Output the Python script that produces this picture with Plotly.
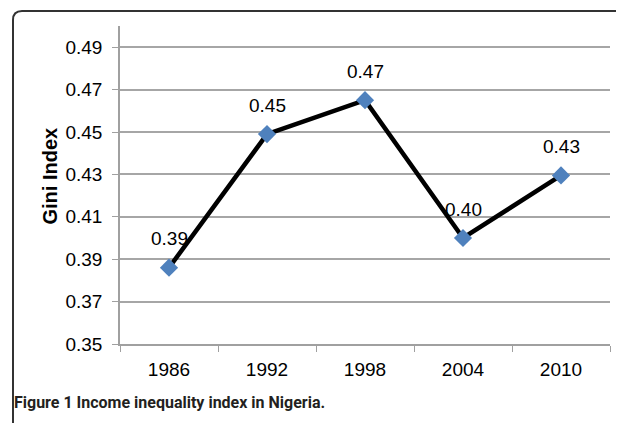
import plotly.graph_objects as go

years = ["1986", "1992", "1998", "2004", "2010"]
gini = [0.386, 0.449, 0.465, 0.400, 0.4295]
label_text = ["0.39", "0.45", "0.47", "0.40", "0.43"]
y_ticks = [0.35, 0.37, 0.39, 0.41, 0.43, 0.45, 0.47, 0.49]
y_tick_text = ["0.35", "0.37", "0.39", "0.41", "0.43", "0.45", "0.47", "0.49"]
y_title = "Gini Index"
caption = "Figure 1 Income inequality index in Nigeria."

# page has an 8px body margin; figure is sized to fit the 624x423 window
OFF = 8
W, H = 616, 415
L, R, T, B = 112, 14, 18, 79
pw, ph = W - L - R, H - T - B

FONT = "Liberation Sans, Arial, sans-serif"

fig = go.Figure()
fig.add_trace(go.Scatter(
    x=years, y=gini, mode="lines+markers",
    line=dict(color="black", width=4.5),
    marker=dict(symbol="diamond", size=14, color="#4F81BD"),
    showlegend=False, hoverinfo="skip",
))

for i, (y, t) in enumerate(zip(gini, label_text)):
    fig.add_annotation(x=i, y=y, xref="x", yref="y", text=t, showarrow=False,
                       yshift=29, font=dict(family=FONT, size=19, color="#000"))

def px_x(p):
    return (p - OFF - L) / pw
def px_y(p):
    return (H - B - (p - OFF)) / ph

# y axis title
fig.add_annotation(xref="paper", yref="paper", x=px_x(49.5), y=px_y(176),
                   xanchor="center", yanchor="middle", showarrow=False,
                   textangle=-90, text=f"<b>{y_title}</b>",
                   font=dict(family=FONT, size=20, color="#000"))

# caption
fig.add_annotation(xref="paper", yref="paper", x=px_x(12), y=px_y(402),
                   xanchor="left", yanchor="middle", showarrow=False,
                   text=f"<b>{caption}</b>",
                   font=dict(family="Roboto, Liberation Sans, sans-serif", size=16,
                             color="#231F20"))

# rounded border (open to the right and bottom, as in the reference)
x0, x1 = px_x(13), px_x(640)
y0, y1 = px_y(11), px_y(440)
rx, ry = 9 / pw, 9 / ph
path = (f"M {x0+rx},{y0} L {x1},{y0} "
        f"M {x0},{y1} L {x0},{y0-ry} Q {x0},{y0} {x0+rx},{y0}")
fig.add_shape(type="path", path=path, xref="paper", yref="paper",
              line=dict(color="#333", width=2), layer="above")

fig.update_layout(
    width=W, height=H,
    margin=dict(l=L, r=R, t=T, b=B),
    paper_bgcolor="white", plot_bgcolor="white",
    xaxis=dict(
        type="category", range=[-0.5, 4.5],
        showgrid=False, showline=True, linecolor="#A0A0A0", linewidth=1.5,
        ticks="outside", tickson="boundaries", ticklen=6, tickcolor="#A0A0A0",
        ticklabelstandoff=7,
        tickfont=dict(family=FONT, size=19, color="#000"),
    ),
    yaxis=dict(
        range=[0.35, 0.50], tickvals=y_ticks, ticktext=y_tick_text,
        showgrid=True, gridcolor="#A6A6A6", gridwidth=1.5,
        showline=True, linecolor="#A0A0A0", linewidth=1.5,
        ticks="outside", ticklen=6, tickcolor="#A0A0A0",
        ticklabelstandoff=6,
        zeroline=False,
        tickfont=dict(family=FONT, size=19, color="#000"),
    ),
)

fig.write_html("out.html")
